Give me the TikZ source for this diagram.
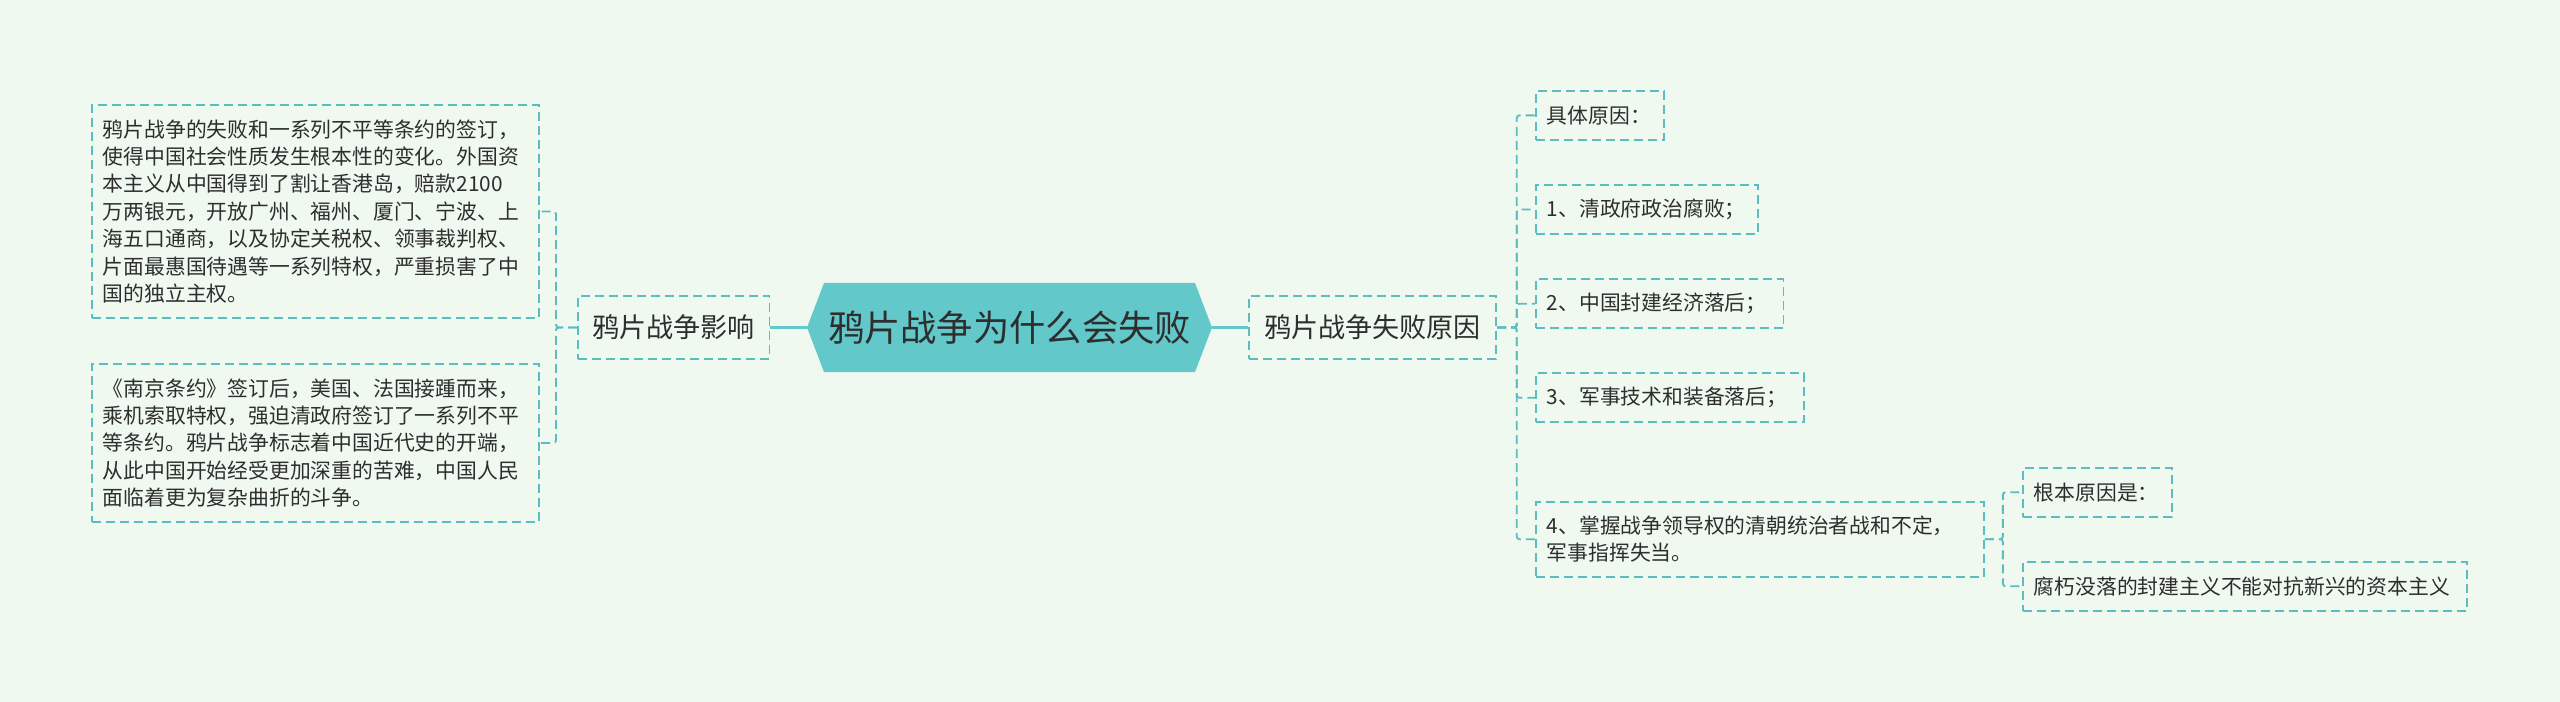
\documentclass[tikz,border=0pt]{standalone}
\usepackage{fontspec}
\newfontfamily\cjk{Noto Sans CJK SC}
\usetikzlibrary{positioning}
\definecolor{bgmint}{HTML}{EFF9EF}
\definecolor{hexcol}{HTML}{62C8CA}
\definecolor{linecol}{HTML}{5BBDC2}
\definecolor{inkcol}{HTML}{2E2E2E}
\newcommand{\px}{0.75pt}
\begin{document}
\begin{tikzpicture}[x=0.75pt, y=-0.75pt,
  topic/.style={inner sep=0pt, outer sep=0pt, text=inkcol,
    minimum width=405*\px, minimum height=89*\px,
    font=\cjk\fontsize{27.2pt}{32pt}\selectfont},
  branch/.style={draw=linecol, line width=1.4pt, dash pattern=on 6.75pt off 3.75pt,
    inner sep=0pt, text=inkcol, minimum height=63*\px,
    font=\cjk\fontsize{20.3pt}{24pt}\selectfont},
  leaf/.style={draw=linecol, line width=1.4pt, dash pattern=on 6.75pt off 3.75pt,
    anchor=west, inner xsep=11*\px, inner ysep=0pt, text=inkcol, align=left,
    minimum width=#1*\px, text width={(#1-22)*\px}, minimum height=49*\px,
    font=\cjk\fontsize{15.6pt}{20.6pt}\selectfont},
  link/.style={draw=linecol, line width=1.4pt, dash pattern=on 6.75pt off 3.75pt,
    rounded corners=2pt},
  mainlink/.style={draw=hexcol, line width=2.2pt}]

%--- Фон ---
\fill[bgmint] (0,0) rectangle (2560,702);
\useasboundingbox (0,0) rectangle (2560,702);

%--- Центральная тема ---
\def\rx{1009.5}
\def\ry{327.5}
\fill[hexcol] (\rx-202.5,\ry) -- (\rx-185.5,\ry-44.5) -- (\rx+185.5,\ry-44.5)
  -- (\rx+202.5,\ry) -- (\rx+185.5,\ry+44.5) -- (\rx-185.5,\ry+44.5) -- cycle;
\node[topic] (root) at (\rx,\ry) {鸦片战争为什么会失败};

%--- Ветви ---
\node[branch, minimum width=191.5*\px] (effect) at (673.7,327.5) {鸦片战争影响};
\node[branch, minimum width=247*\px] (cause) at (1372.7,327.5) {鸦片战争失败原因};

\draw[mainlink] (root.west) -- (effect.east);
\draw[mainlink] (root.east) -- (cause.west);

%--- Слева: влияние ---
\node[leaf=447, minimum height=213*\px] (effa) at (91,211.5)
  {鸦片战争的失败和一系列不平等条约的签订，\\
   使得中国社会性质发生根本性的变化。外国资\\
   本主义从中国得到了割让香港岛，赔款2100\\
   万两银元，开放广州、福州、厦门、宁波、上\\
   海五口通商，以及协定关税权、领事裁判权、\\
   片面最惠国待遇等一系列特权，严重损害了中\\
   国的独立主权。};
\node[leaf=447, minimum height=158*\px] (effb) at (91,443)
  {《南京条约》签订后，美国、法国接踵而来，\\
   乘机索取特权，强迫清政府签订了一系列不平\\
   等条约。鸦片战争标志着中国近代史的开端，\\
   从此中国开始经受更加深重的苦难，中国人民\\
   面临着更为复杂曲折的斗争。};

\foreach \nm in {effa,effb}
  \draw[link] (effect.west) -- ++(-21,0) |- (\nm.east);

%--- Справа: причины ---
\foreach \nm/\yy/\ww/\txt in {
    ca/115.4/128/{具体原因：},
    cb/209.5/222/{1、清政府政治腐败；},
    cc/303.7/247.5/{2、中国封建经济落后；},
    cd/397.8/268/{3、军事技术和装备落后；}}{
  \node[leaf=\ww] (\nm) at (1535,\yy) {\txt};
}
\node[leaf=448, minimum height=75*\px] (ce) at (1535,539.2)
  {4、掌握战争领导权的清朝统治者战和不定，\\军事指挥失当。};

\foreach \nm in {ca,cb,cc,cd,ce}
  \draw[link] (cause.east) -- ++(19.6,0) |- (\nm.west);

%--- Коренная причина ---
\node[leaf=149] (rootcause) at (2022,492.2) {根本原因是：};
\node[leaf=444] (decay) at (2022,586.3)
  {腐朽没落的封建主义不能对抗新兴的资本主义};

\foreach \nm in {rootcause,decay}
  \draw[link] (ce.east) -- ++(18,0) |- (\nm.west);

\end{tikzpicture}
\end{document}
